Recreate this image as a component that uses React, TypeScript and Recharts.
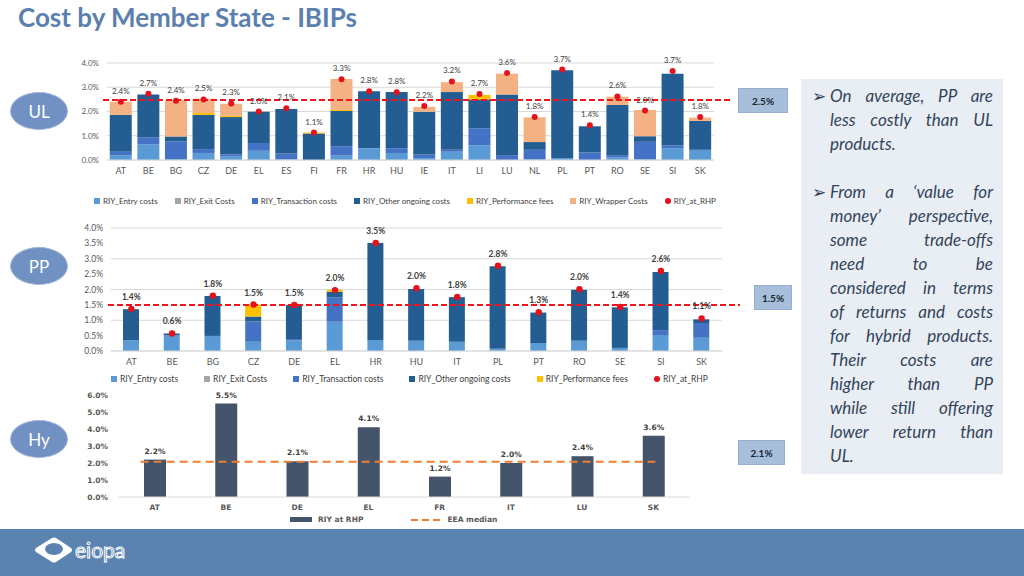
import React from "react"
import { ComposedChart, Bar, Line, XAxis, YAxis, CartesianGrid, ReferenceLine, LabelList } from "recharts"

// ---- UL (unit-linked) ----
const ulStates = ["AT", "BE", "BG", "CZ", "DE", "EL", "ES", "FI", "FR", "HR", "HU", "IE", "IT", "LI", "LU", "NL", "PL", "PT", "RO", "SE", "SI", "SK"]
const ulEntry = [0.2, 0.65, 0.04, 0.29, 0.14, 0.38, 0.02, 0, 0.18, 0.49, 0.29, 0.08, 0.34, 0.61, 0, 0.02, 0.08, 0, 0.1, 0.02, 0.49, 0.42]
const ulExit = [0, 0, 0, 0, 0, 0, 0, 0, 0, 0, 0, 0, 0, 0, 0, 0, 0, 0, 0, 0, 0, 0]
const ulTrans = [0.14, 0.28, 0.72, 0.16, 0.09, 0.32, 0.25, 0, 0.39, 0, 0.2, 0.15, 0.08, 0.7, 0.2, 0.4, 0, 0.31, 0.1, 0.73, 0.11, 0]
const ulOther = [1.52, 1.77, 0.21, 1.41, 1.54, 1.29, 1.83, 1.09, 1.45, 2.34, 2.31, 1.76, 2.38, 1.19, 2.5, 0.32, 3.62, 1.08, 2.07, 0.23, 2.96, 1.19]
const ulPerf = [0, 0, 0, 0.08, 0.05, 0, 0, 0.04, 0.04, 0, 0, 0, 0, 0.18, 0, 0, 0, 0, 0, 0, 0, 0]
const ulWrapper = [0.54, 0, 1.5, 0.59, 0.5, 0, 0, 0, 1.28, 0, 0, 0.2, 0.41, 0, 0.86, 1.02, 0, 0, 0.34, 1.08, 0, 0.14]
const ulRhp = [2.4, 2.73, 2.44, 2.5, 2.33, 2.0, 2.13, 1.13, 3.33, 2.84, 2.79, 2.23, 3.24, 2.72, 3.59, 1.77, 3.73, 1.43, 2.62, 2.04, 3.67, 1.77]
const ulAverage = 2.47

// ---- PP (profit participation) ----
const ppStates = ["AT", "BE", "BG", "CZ", "DE", "EL", "HR", "HU", "IT", "PL", "PT", "RO", "SE", "SI", "SK"]
const ppEntry = [0.35, 0.52, 0.49, 0.3, 0.34, 0.95, 0.36, 0.33, 0.3, 0.07, 0.26, 0.33, 0.1, 0.52, 0.43]
const ppExit = [0, 0, 0, 0, 0, 0, 0, 0, 0, 0, 0, 0, 0, 0, 0]
const ppTrans = [0, 0, 0, 0.66, 0.05, 0.8, 0, 0, 0, 0, 0, 0, 0, 0.16, 0.48]
const ppOther = [1.01, 0.05, 1.3, 0.16, 1.11, 0.18, 3.15, 1.69, 1.45, 2.69, 0.99, 1.66, 1.32, 1.89, 0.12]
const ppPerf = [0, 0, 0, 0.39, 0, 0.06, 0, 0, 0, 0, 0, 0, 0, 0, 0]
const ppRhp = [1.37, 0.57, 1.8, 1.51, 1.5, 1.98, 3.51, 2.04, 1.76, 2.77, 1.26, 2.01, 1.43, 2.6, 1.06]
const ppAverage = 1.5

// ---- Hybrid ----
const hyStates = ["AT", "BE", "DE", "EL", "FR", "IT", "LU", "SK"]
const hyRhp = [2.2, 5.5, 2.1, 4.1, 1.2, 2.0, 2.4, 3.6]
const hyMedian = 2.08

const ulTicks = [0, 1, 2, 3, 4]
const ppTicks = [0, 0.5, 1, 1.5, 2, 2.5, 3, 3.5, 4]
const hyTicks = [0, 1, 2, 3, 4, 5, 6]

const C = {
  entry: "#5b9bd5",
  exit: "#a5a5a5",
  trans: "#4472c4",
  other: "#245d92",
  perf: "#ffc000",
  wrapper: "#f4b183",
  rhp: "#e5121b",
  hy: "#44546a",
  median: "#ed7d31",
}

const ulData = ulStates.map((s, i) => ({
  state: s, entry: ulEntry[i], exit: ulExit[i], trans: ulTrans[i], other: ulOther[i],
  perf: ulPerf[i], wrapper: ulWrapper[i], rhp: ulRhp[i],
}))
const ppData = ppStates.map((s, i) => ({
  state: s, entry: ppEntry[i], exit: ppExit[i], trans: ppTrans[i], other: ppOther[i],
  perf: ppPerf[i], rhp: ppRhp[i],
}))
const hyData = hyStates.map((s, i) => ({ state: s, rhp: hyRhp[i] }))

const pct = (v: any) => `${Number(v).toFixed(1)}%`
const FONT = "Lato, 'Open Sans', sans-serif"
const VFONT = "'DejaVu Sans', Verdana, sans-serif"

function LegendRow({ items, style, fontSize }: any) {
  return (
    <div style={{ position: "absolute", display: "flex", alignItems: "center", fontFamily: FONT, fontSize, color: "#404040", whiteSpace: "nowrap", ...style }}>
      {items.map((it: any) => (
        <div key={it.label} style={{ display: "flex", alignItems: "center", gap: 3 }}>
          {it.kind === "dot" ? (
            <span style={{ width: 6, height: 6, borderRadius: 3, background: it.color, display: "inline-block" }} />
          ) : (
            <span style={{ width: 6, height: 6, background: it.color, display: "inline-block" }} />
          )}
          <span>{it.label}</span>
        </div>
      ))}
    </div>
  )
}

const ulLegend = [
  { label: "RIY_Entry costs", color: C.entry },
  { label: "RIY_Exit Costs", color: C.exit },
  { label: "RIY_Transaction costs", color: C.trans },
  { label: "RIY_Other ongoing costs", color: C.other },
  { label: "RIY_Performance fees", color: C.perf },
  { label: "RIY_Wrapper Costs", color: C.wrapper },
  { label: "RIY_at_RHP", color: C.rhp, kind: "dot" },
]
const ppLegend = ulLegend.filter((l) => l.label !== "RIY_Wrapper Costs")

function Pill({ text, style }: any) {
  return (
    <div style={{ position: "absolute", width: 56, height: 36, borderRadius: "50%", background: "#7091c2", border: "1px solid #9fb6d8", color: "#fff", fontFamily: FONT, fontSize: 17, display: "flex", alignItems: "center", justifyContent: "center", ...style }}>
      {text}
    </div>
  )
}

function ValueBox({ text, style }: any) {
  return (
    <div style={{ position: "absolute", height: 25, background: "#a7bfdb", border: "1px solid #95afd2", color: "#1b2430", fontFamily: FONT, fontWeight: 700, fontSize: 10, display: "flex", alignItems: "center", justifyContent: "center", boxSizing: "border-box", ...style }}>
      {text}
    </div>
  )
}

const redDash = (extendLeft: number, extendRight: number) => (p: any) => (
  <line x1={p.x1 - extendLeft} x2={p.x2 + extendRight} y1={p.y1} y2={p.y2} stroke="#f0141c" strokeWidth={2} strokeDasharray="6 3" />
)

const stackBars = (withWrapper: boolean) => [
  <Bar key="entry" dataKey="entry" stackId="a" fill={C.entry} isAnimationActive={false} />,
  <Bar key="exit" dataKey="exit" stackId="a" fill={C.exit} isAnimationActive={false} />,
  <Bar key="trans" dataKey="trans" stackId="a" fill={C.trans} isAnimationActive={false} />,
  <Bar key="other" dataKey="other" stackId="a" fill={C.other} isAnimationActive={false} />,
  <Bar key="perf" dataKey="perf" stackId="a" fill={C.perf} isAnimationActive={false} />,
  ...(withWrapper ? [<Bar key="wrapper" dataKey="wrapper" stackId="a" fill={C.wrapper} isAnimationActive={false} />] : []),
]

const textLines1 = ["On average, PP are", "less costly than UL", "products."]
const textLines2 = ["From a \u2018value for", "money\u2019 perspective,", "some trade-offs", "need to be", "considered in terms", "of returns and costs", "for hybrid products.", "Their costs are", "higher than PP", "while still offering", "lower return than", "UL."]

function Para({ lines }: { lines: string[] }) {
  return (
    <div style={{ position: "relative", paddingLeft: 29 }}>
      <span style={{ position: "absolute", left: 11, top: 0, fontStyle: "normal", fontSize: 17, color: "#2a3a50" }}>{"\u27A2"}</span>
      {lines.map((l, i) => (
        <div key={i} style={{ textAlign: "justify", textAlignLast: i === lines.length - 1 ? "left" : "justify", whiteSpace: "nowrap" }}>{l}</div>
      ))}
    </div>
  )
}

export default function App() {
  return (
    <div style={{ position: "absolute", left: 0, top: 0, width: 1024, height: 576, overflow: "hidden", background: "#fff", fontFamily: FONT }}>
      <div style={{ position: "absolute", left: 18, top: 1, fontSize: 26, fontWeight: 700, color: "#5b7fae", fontFamily: FONT }}>
        Cost by Member State - IBIPs
      </div>

      {/* UL */}
      <div style={{ position: "absolute", left: 60, top: 50 }}>
        <ComposedChart width={670} height={130} data={ulData} margin={{ top: 13, right: 16, bottom: 0, left: 7 }}>
          <CartesianGrid vertical={false} stroke="#d9d9d9" />
          <XAxis dataKey="state" height={20} tickLine={false} axisLine={{ stroke: "#d9d9d9" }} tick={{ fontSize: 9, fill: "#595959", fontFamily: FONT }} interval={0} />
          <YAxis width={40} domain={[0, 4]} ticks={ulTicks} tickFormatter={pct} tickLine={false} axisLine={false} tick={{ fontSize: 8, fill: "#595959", fontFamily: FONT }} />
          {stackBars(true)}
          <Line dataKey="rhp" stroke="none" isAnimationActive={false} activeDot={false} dot={{ r: 3, fill: C.rhp, stroke: C.rhp, strokeWidth: 0 }}>
            <LabelList dataKey="rhp" position="top" offset={8} formatter={pct} style={{ fontSize: 8, fill: "#404040", fontFamily: FONT }} />
          </Line>
          <ReferenceLine y={ulAverage} shape={redDash(4, 21)} />
        </ComposedChart>
      </div>
      <LegendRow items={ulLegend} fontSize={8} style={{ left: 94, top: 196, gap: 17 }} />
      <ValueBox text={pct(ulAverage)} style={{ left: 738, top: 88, width: 50 }} />
      <Pill text="UL" style={{ left: 10, top: 92 }} />

      {/* PP */}
      <div style={{ position: "absolute", left: 60, top: 215 }}>
        <ComposedChart width={680} height={156} data={ppData} margin={{ top: 13, right: 18, bottom: 0, left: 9 }}>
          <CartesianGrid vertical={false} stroke="#d9d9d9" />
          <XAxis dataKey="state" height={20} tickLine={false} axisLine={{ stroke: "#d9d9d9" }} tick={{ fontSize: 9, fill: "#595959", fontFamily: FONT }} interval={0} />
          <YAxis width={42} domain={[0, 4]} ticks={ppTicks} tickFormatter={pct} tickLine={false} axisLine={false} tick={{ fontSize: 8.5, fill: "#595959", fontFamily: FONT }} />
          {stackBars(false).map((b) => React.cloneElement(b, { barSize: 16 } as any))}
          <Line dataKey="rhp" stroke="none" isAnimationActive={false} activeDot={false} dot={{ r: 3.2, fill: C.rhp, stroke: C.rhp, strokeWidth: 0 }}>
            <LabelList dataKey="rhp" position="top" offset={9} formatter={pct} style={{ fontSize: 8.5, fill: "#404040", fontFamily: FONT, fontWeight: 700 }} />
          </Line>
          <ReferenceLine y={ppAverage} shape={redDash(3, 30)} />
        </ComposedChart>
      </div>
      <LegendRow items={ppLegend} fontSize={8.5} style={{ left: 111, top: 374, gap: 26 }} />
      <ValueBox text={pct(ppAverage)} style={{ left: 754, top: 285, width: 38 }} />
      <Pill text="PP" style={{ left: 10, top: 247 }} />

      {/* Hybrid */}
      <div style={{ position: "absolute", left: 60, top: 382 }}>
        <ComposedChart width={650} height={135} data={hyData} margin={{ top: 13, right: 21, bottom: 0, left: 17 }}>
          <XAxis dataKey="state" height={20} tickLine={false} axisLine={{ stroke: "#d9d9d9" }} tick={{ fontSize: 7.5, fill: "#595959", fontFamily: VFONT, fontWeight: 700 }} interval={0} />
          <YAxis width={42} domain={[0, 6]} ticks={hyTicks} tickFormatter={pct} tickLine={false} axisLine={false} tickMargin={5} tick={{ fontSize: 7.5, fill: "#595959", fontFamily: VFONT, fontWeight: 700 }} />
          <Bar dataKey="rhp" fill={C.hy} barSize={22} isAnimationActive={false}>
            <LabelList dataKey="rhp" position="top" offset={6} formatter={pct} style={{ fontSize: 7.5, fill: "#404040", fontFamily: VFONT, fontWeight: 700 }} />
          </Bar>
          <ReferenceLine
            segment={[{ x: "AT", y: hyMedian }, { x: "SK", y: hyMedian }]}
            shape={(p: any) => <line x1={p.x1 - 14} x2={p.x2 + 2} y1={p.y1} y2={p.y2} stroke={C.median} strokeWidth={2} strokeDasharray="8 5" />}
          />
        </ComposedChart>
      </div>
      <div style={{ position: "absolute", left: 290, top: 515, display: "flex", alignItems: "center", gap: 6, fontFamily: VFONT, fontSize: 7.5, fontWeight: 700, color: "#595959", whiteSpace: "nowrap" }}>
        <span style={{ width: 22, height: 5, background: C.hy, display: "inline-block" }} />
        <span>RIY at RHP</span>
        <span style={{ width: 36 }} />
        <svg width={30} height={4}><line x1={0} x2={30} y1={2} y2={2} stroke={C.median} strokeWidth={2} strokeDasharray="7 4" /></svg>
        <span>EEA median</span>
      </div>
      <ValueBox text={pct(hyMedian)} style={{ left: 738, top: 440, width: 47 }} />
      <Pill text="Hy" style={{ left: 10, top: 420 }} />

      {/* commentary */}
      <div style={{ position: "absolute", left: 801, top: 79, width: 202, height: 395, background: "#e9eef5", boxSizing: "border-box", padding: "5px 10px 0 0", fontStyle: "italic", fontSize: 17, lineHeight: "24px", color: "#33445a", fontFamily: FONT }}>
        <Para lines={textLines1} />
        <div style={{ height: 24 }} />
        <Para lines={textLines2} />
      </div>

      {/* footer */}
      <div style={{ position: "absolute", left: 0, top: 529, width: 1024, height: 47, background: "#5b83b0" }}>
        <svg width={140} height={47} style={{ position: "absolute", left: 30, top: 0 }}>
          <path d="M22 9 Q24 8 26 9 L41 19 Q43 21 41 23 L26 33 Q24 34 22 33 L6 23 Q4 21 6 19 Z" fill="#fff" />
          <ellipse cx={24} cy={20} rx={9} ry={6} fill="#5b83b0" />
          <text x={45} y={29} fontSize={21} fill="none" stroke="#fff" strokeWidth={1} fontFamily={FONT}>eiopa</text>
        </svg>
      </div>
    </div>
  )
}
